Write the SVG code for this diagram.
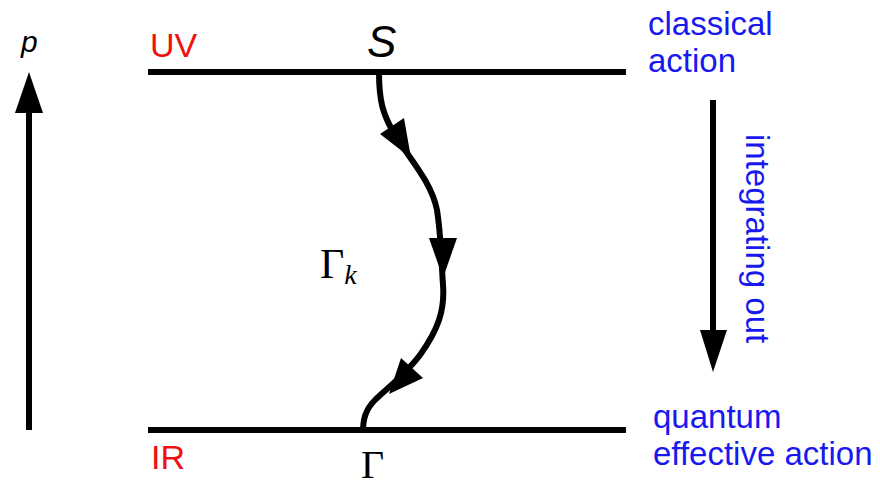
<svg xmlns="http://www.w3.org/2000/svg" width="880" height="488" viewBox="0 0 880 488">
<style>
.red{font-family:"Liberation Sans",Arial,sans-serif;font-size:34px;fill:#f01010}
.blue{font-family:"Liberation Sans",Arial,sans-serif;font-size:33px;fill:#1818f0}
.serif{font-family:"Liberation Serif","Times New Roman",serif;fill:#000}
.ln{stroke:#000;stroke-width:6;fill:none}
</style>
<rect width="880" height="488" fill="#fff"/>
<g id="axis-p">
<line class="ln" x1="29" y1="430" x2="29" y2="108"/>
<polygon points="29,72 15,113 43,113" fill="#000"/>
<text x="21" y="52" font-family="Liberation Sans,Arial,sans-serif" font-style="italic" font-size="30" fill="#000">p</text>
</g>
<g id="uv-line">
<line class="ln" x1="148" y1="72" x2="626" y2="72"/>
<text class="red" x="150" y="57">UV</text>
<text x="367" y="57" font-family="Liberation Sans,Arial,sans-serif" font-style="italic" font-size="44" fill="#000">S</text>
</g>
<g id="ir-line">
<line class="ln" x1="148" y1="430" x2="626" y2="430"/>
<text class="red" x="151" y="469">IR</text>
<text class="serif" x="361" y="478" font-size="40">Γ</text>
</g>
<g id="classical">
<text class="blue" x="648" y="35">classical</text>
<text class="blue" x="648" y="72">action</text>
</g>
<g id="quantum">
<text class="blue" x="653" y="428">quantum</text>
<text class="blue" x="653" y="465">effective action</text>
</g>
<g id="integrating">
<line class="ln" x1="713" y1="100" x2="713" y2="335"/>
<polygon points="700,330 727,330 713,372" fill="#000"/>
<text class="blue" transform="translate(746,134) rotate(90)" font-size="33.5">integrating out</text>
</g>
<g id="flow">
<path class="ln" d="M379,72 C379,100 382,115 398,140 C415,165 432,185 437,210 C441,235 441,255 443,285 C445,310 438,330 420,355 C405,375 385,390 375,400 C365,410 363,420 363,432"/>
<polygon points="411,158 380,134 404,118" fill="#000"/>
<polygon points="443,278 429,238 457,238" fill="#000"/>
<polygon points="389,394 401,358 423,378" fill="#000"/>
<text class="serif" x="320" y="278" font-size="42">Γ<tspan font-style="italic" font-size="28" dy="6">k</tspan></text>
</g>
</svg>
